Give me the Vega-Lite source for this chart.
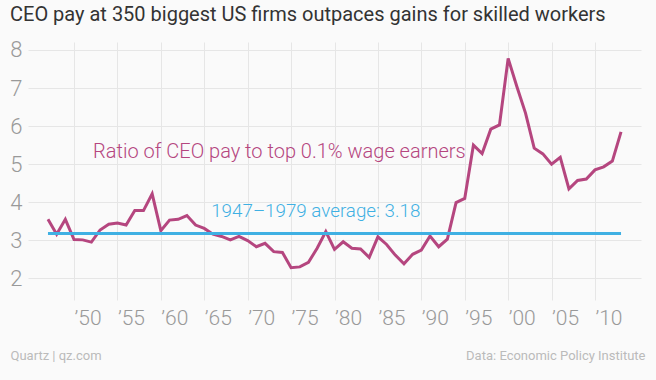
{
  "$schema": "https://vega.github.io/schema/vega-lite/v6.json",
  "width": 613,
  "height": 258,
  "autosize": {"type": "none"},
  "padding": {"left": 28, "top": 42, "right": 15, "bottom": 80},
  "background": "#fafafa",
  "title": {
    "text": "CEO pay at 350 biggest US firms outpaces gains for skilled workers",
    "anchor": "start",
    "frame": "group",
    "dx": -18,
    "offset": 14,
    "font": "Roboto",
    "fontSize": 20,
    "fontWeight": "normal",
    "color": "#333333"
  },
  "config": {"view": {"stroke": null}, "font": "Roboto"},
  "datasets": {
    "ratio": [
      {"year": 1947, "ratio": 3.55}, {"year": 1948, "ratio": 3.16}, {"year": 1949, "ratio": 3.55},
      {"year": 1950, "ratio": 3.02}, {"year": 1951, "ratio": 3.01}, {"year": 1952, "ratio": 2.95},
      {"year": 1953, "ratio": 3.27}, {"year": 1954, "ratio": 3.42}, {"year": 1955, "ratio": 3.45},
      {"year": 1956, "ratio": 3.40}, {"year": 1957, "ratio": 3.78}, {"year": 1958, "ratio": 3.78},
      {"year": 1959, "ratio": 4.22}, {"year": 1960, "ratio": 3.25}, {"year": 1961, "ratio": 3.53},
      {"year": 1962, "ratio": 3.55}, {"year": 1963, "ratio": 3.65}, {"year": 1964, "ratio": 3.40},
      {"year": 1965, "ratio": 3.31}, {"year": 1966, "ratio": 3.16}, {"year": 1967, "ratio": 3.10},
      {"year": 1968, "ratio": 3.01}, {"year": 1969, "ratio": 3.10}, {"year": 1970, "ratio": 2.99},
      {"year": 1971, "ratio": 2.83}, {"year": 1972, "ratio": 2.92}, {"year": 1973, "ratio": 2.70},
      {"year": 1974, "ratio": 2.68}, {"year": 1975, "ratio": 2.28}, {"year": 1976, "ratio": 2.30},
      {"year": 1977, "ratio": 2.42}, {"year": 1978, "ratio": 2.79}, {"year": 1979, "ratio": 3.23},
      {"year": 1980, "ratio": 2.76}, {"year": 1981, "ratio": 2.96}, {"year": 1982, "ratio": 2.79},
      {"year": 1983, "ratio": 2.77}, {"year": 1984, "ratio": 2.55}, {"year": 1985, "ratio": 3.09},
      {"year": 1986, "ratio": 2.89}, {"year": 1987, "ratio": 2.61}, {"year": 1988, "ratio": 2.38},
      {"year": 1989, "ratio": 2.63}, {"year": 1990, "ratio": 2.74}, {"year": 1991, "ratio": 3.11},
      {"year": 1992, "ratio": 2.83}, {"year": 1993, "ratio": 3.03}, {"year": 1994, "ratio": 3.99},
      {"year": 1995, "ratio": 4.10}, {"year": 1996, "ratio": 5.50}, {"year": 1997, "ratio": 5.28},
      {"year": 1998, "ratio": 5.92}, {"year": 1999, "ratio": 6.03}, {"year": 2000, "ratio": 7.78},
      {"year": 2001, "ratio": 7.04}, {"year": 2002, "ratio": 6.34}, {"year": 2003, "ratio": 5.42},
      {"year": 2004, "ratio": 5.27}, {"year": 2005, "ratio": 5.00}, {"year": 2006, "ratio": 5.18},
      {"year": 2007, "ratio": 4.35}, {"year": 2008, "ratio": 4.57}, {"year": 2009, "ratio": 4.61},
      {"year": 2010, "ratio": 4.85}, {"year": 2011, "ratio": 4.93}, {"year": 2012, "ratio": 5.08},
      {"year": 2013, "ratio": 5.85}
    ],
    "average": [{"start": 1947, "end": 2013, "avg": 3.18}],
    "one": [{}]
  },
  "layer": [
    {
      "data": {"name": "ratio"},
      "mark": {"type": "line", "color": "#b5467f", "strokeWidth": 3},
      "encoding": {
        "x": {
          "field": "year",
          "type": "quantitative",
          "scale": {"domain": [1944.7, 2015.3], "nice": false, "zero": false},
          "axis": {
            "values": [1950, 1955, 1960, 1965, 1970, 1975, 1980, 1985, 1990, 1995, 2000, 2005, 2010],
            "labelExpr": "'’' + slice(toString(datum.value), 2)",
            "grid": true,
            "gridColor": "#e6e6e6",
            "ticks": false,
            "tickSize": 0,
            "domain": false,
            "labelAlign": "left",
            "labelBaseline": "top",
            "labelPadding": 7,
            "labelDx": 2,
            "labelFont": "Roboto",
            "labelFontSize": 21,
            "labelFontWeight": 300,
            "labelColor": "#999999",
            "labelFlush": false,
            "title": "Quartz | qz.com",
            "titleX": -18,
            "titleY": 59,
            "titleAlign": "left",
            "titleAnchor": "start",
            "titleBaseline": "alphabetic",
            "titleFont": "Roboto",
            "titleFontSize": 13,
            "titleFontWeight": "normal",
            "titleColor": "#bbbbbb"
          }
        },
        "y": {
          "field": "ratio",
          "type": "quantitative",
          "scale": {"domain": [1.43, 8.21], "nice": false, "zero": false},
          "axis": {
            "values": [2, 3, 4, 5, 6, 7, 8],
            "grid": true,
            "gridColor": "#e6e6e6",
            "ticks": false,
            "tickSize": 0,
            "domain": false,
            "labelPadding": 6,
            "labelFont": "Roboto",
            "labelFontSize": 22,
            "labelFontWeight": 300,
            "labelColor": "#999999",
            "labelFlush": false,
            "title": null
          }
        }
      }
    },
    {
      "data": {"name": "average"},
      "mark": {"type": "rule", "color": "#3fb0e3", "strokeWidth": 3},
      "encoding": {
        "x": {"field": "start", "type": "quantitative"},
        "x2": {"field": "end"},
        "y": {
          "field": "avg",
          "type": "quantitative",
          "axis": {
            "orient": "right",
            "labels": false,
            "ticks": false,
            "domain": false,
            "grid": false,
            "title": "Data: Economic Policy Institute",
            "titleAngle": 0,
            "titleAlign": "right",
            "titleBaseline": "alphabetic",
            "titleX": 4,
            "titleY": 317,
            "titleFont": "Roboto",
            "titleFontSize": 13,
            "titleFontWeight": "normal",
            "titleColor": "#bbbbbb"
          }
        }
      }
    },
    {
      "data": {"name": "one"},
      "mark": {"type": "text", "align": "left", "baseline": "alphabetic", "font": "Roboto", "fontSize": 20, "fontWeight": 300, "color": "#b5467f", "text": "Ratio of CEO pay to top 0.1% wage earners"},
      "encoding": {
        "x": {"datum": 1952.2, "type": "quantitative"},
        "y": {"datum": 5.16, "type": "quantitative", "axis": null}
      }
    },
    {
      "data": {"name": "one"},
      "mark": {"type": "text", "align": "left", "baseline": "alphabetic", "font": "Roboto", "fontSize": 18.8, "fontWeight": 300, "color": "#3fb0e3", "text": "1947–1979 average: 3.18"},
      "encoding": {
        "x": {"datum": 1965.8, "type": "quantitative"},
        "y": {"datum": 3.61, "type": "quantitative", "axis": null}
      }
    }
  ],
  "resolve": {"axis": {"y": "independent"}}
}
